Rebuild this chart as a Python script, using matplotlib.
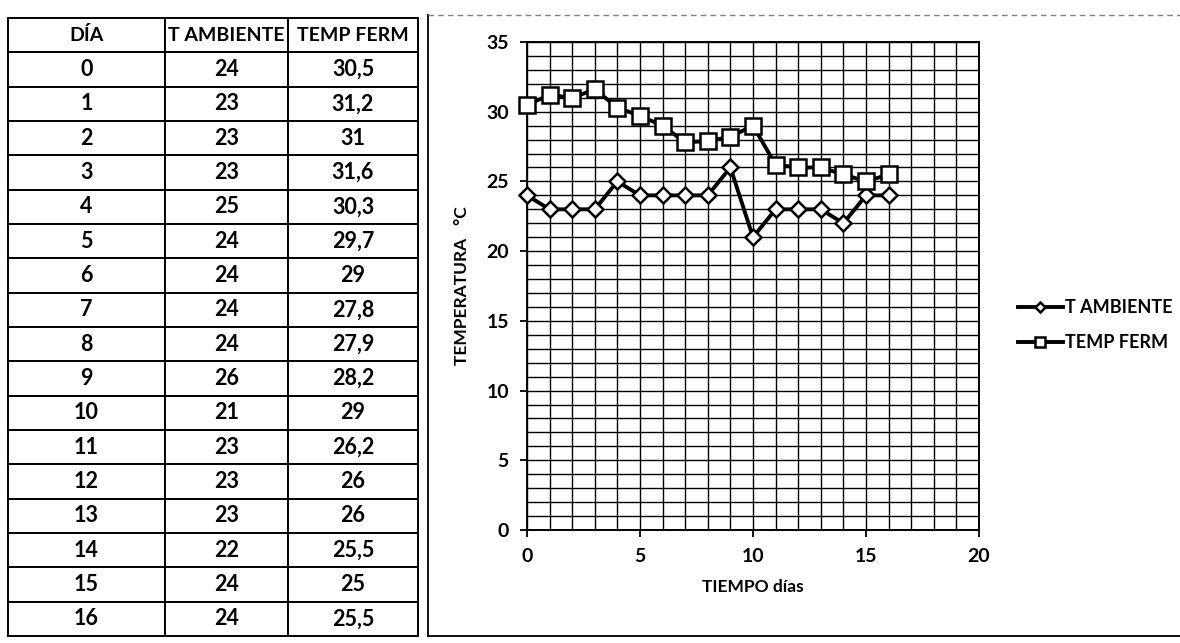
import numpy as np
import matplotlib.pyplot as plt
from matplotlib.lines import Line2D

# datos
dias = [0, 1, 2, 3, 4, 5, 6, 7, 8, 9, 10, 11, 12, 13, 14, 15, 16]
t_ambiente = [24, 23, 23, 23, 25, 24, 24, 24, 24, 26, 21, 23, 23, 23, 22, 24, 24]
temp_ferm = [30.5, 31.2, 31, 31.6, 30.3, 29.7, 29, 27.8, 27.9, 28.2, 29, 26.2, 26, 26, 25.5, 25, 25.5]
encabezados = ["DÍA", "T AMBIENTE", "TEMP FERM"]

FUENTE = ['Lato', 'DejaVu Sans']
plt.rcParams['font.family'] = FUENTE
plt.rcParams['font.weight'] = 'bold'

fig = plt.figure(figsize=(11.8, 6.43), dpi=100)

# marco del gráfico (izquierda y abajo sólido, arriba punteado)
W, H = 1180, 643
fig.add_artist(Line2D([428 / W, 428 / W], [7 / H, 628 / H], color='black', linewidth=1.3))
fig.add_artist(Line2D([428 / W, 1.0], [7 / H, 7 / H], color='black', linewidth=1.3))
fig.add_artist(Line2D([428 / W, 1.0], [628 / H, 628 / H], color='gray', linewidth=1.0,
                      linestyle=(0, (4, 3))))

# =============================================================================
# TABLA
# =============================================================================
ax_t = fig.add_axes([8 / W, 7 / H, 410 / W, 618 / H])
ax_t.axis('off')

def fmt(v):
    s = f"{v:g}"
    return s.replace('.', ',')

celdas = [[str(d), fmt(a), fmt(f)] for d, a, f in zip(dias, t_ambiente, temp_ferm)]
tabla = ax_t.table(cellText=celdas, colLabels=encabezados, cellLoc='center',
                   colWidths=[157, 123, 130], bbox=[0, 0, 1, 1])
tabla.auto_set_font_size(False)
for (r, c), cell in tabla.get_celld().items():
    cell.set_linewidth(1.4)
    cell.set_edgecolor('black')
    cell.get_text().set_fontweight('bold')
    cell.get_text().set_fontsize(14 if r == 0 else 15.5)

# =============================================================================
# GRÁFICO
# =============================================================================
ax = fig.add_axes([527 / W, 113 / H, 452 / W, 488 / H])
ax.plot(dias, t_ambiente, '-', color='black', linewidth=2.8, marker='D',
        markersize=8, markerfacecolor='white', markeredgecolor='black',
        markeredgewidth=1.8, label='T AMBIENTE', zorder=3, clip_on=False)
ax.plot(dias, temp_ferm, '-', color='black', linewidth=2.8, marker='s',
        markersize=11, markerfacecolor='white', markeredgecolor='black',
        markeredgewidth=1.8, label='TEMP FERM', zorder=3, clip_on=False)

ax.set_xlim(0, 20)
ax.set_ylim(0, 35)
ax.set_xticks(np.arange(0, 21, 5))
ax.set_yticks(np.arange(0, 36, 5))
ax.set_xticks(np.arange(0, 21, 1), minor=True)
ax.set_yticks(np.arange(0, 36, 1), minor=True)
ax.grid(True, which='both', color='black', linewidth=1.0)
ax.set_axisbelow(True)
ax.tick_params(which='minor', length=0)
ax.tick_params(which='major', length=5, width=1.3, labelsize=14, pad=8)
for s in ax.spines.values():
    s.set_linewidth(1.4)

ax.set_xlabel("TIEMPO días", fontsize=12.5, fontweight='bold', labelpad=10)
ax.set_ylabel("TEMPERATURA   °C", fontsize=12.5, fontweight='bold', labelpad=12)

leg = ax.legend(loc='center left', bbox_to_anchor=(1.07, 0.42), frameon=False,
                fontsize=13, handlelength=2.5, handletextpad=0.1, labelspacing=1.0,
                markerscale=0.7, borderaxespad=0.0)

fig.savefig("out.png", dpi=100)
